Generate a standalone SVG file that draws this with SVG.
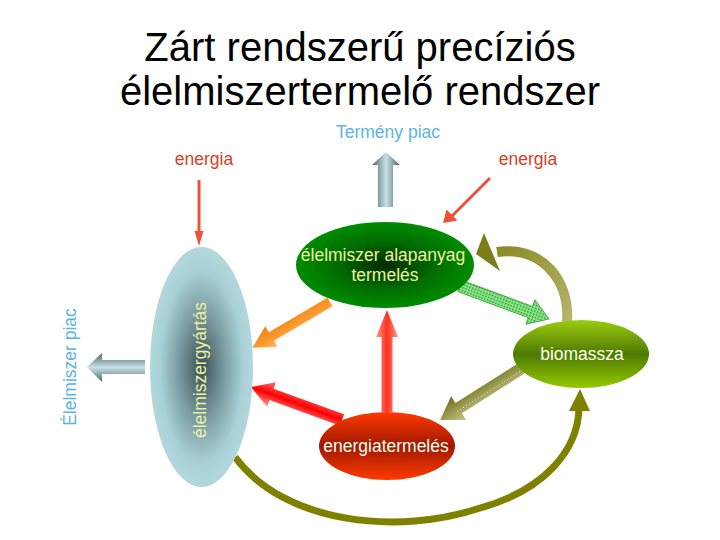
<svg xmlns="http://www.w3.org/2000/svg" width="720" height="540" viewBox="0 0 720 540">
<defs>
<radialGradient id="gGreen" cx="50%" cy="50%" r="50%">
<stop offset="0" stop-color="#002c00"/>
<stop offset="0.55" stop-color="#006c00"/>
<stop offset="1" stop-color="#008c00"/>
</radialGradient>
<radialGradient id="gBlue" cx="50%" cy="50%" r="50%">
<stop offset="0" stop-color="#3a5056"/>
<stop offset="0.45" stop-color="#7a9ca2"/>
<stop offset="0.8" stop-color="#a8d0d6"/>
<stop offset="1" stop-color="#b2d8dc"/>
</radialGradient>
<linearGradient id="gBio" x1="0" y1="0" x2="0" y2="1">
<stop offset="0" stop-color="#9ccc10"/>
<stop offset="0.5" stop-color="#4e7a00"/>
<stop offset="1" stop-color="#94ca00"/>
</linearGradient>
<linearGradient id="gEnergy" x1="0" y1="0" x2="0" y2="1">
<stop offset="0" stop-color="#ff3a00"/>
<stop offset="0.5" stop-color="#a01800"/>
<stop offset="1" stop-color="#ff3a00"/>
</linearGradient>
<linearGradient id="gOrange" x1="0" y1="0" x2="0" y2="1">
<stop offset="0" stop-color="#ffc070"/>
<stop offset="0.4" stop-color="#ff9a30"/>
<stop offset="1" stop-color="#f08010"/>
</linearGradient>
<linearGradient id="gRed" x1="0" y1="0" x2="0" y2="1">
<stop offset="0" stop-color="#ff9a9a"/>
<stop offset="0.5" stop-color="#ff0000"/>
<stop offset="1" stop-color="#ff7070"/>
</linearGradient>
<linearGradient id="gRedV" x1="0" y1="0" x2="0" y2="1">
<stop offset="0" stop-color="#ff9a88"/>
<stop offset="0.5" stop-color="#ff3020"/>
<stop offset="1" stop-color="#ff9a88"/>
</linearGradient>
<linearGradient id="gOlive" x1="0" y1="0" x2="0" y2="1">
<stop offset="0" stop-color="#c8c890"/>
<stop offset="0.5" stop-color="#9a9a50"/>
<stop offset="1" stop-color="#6e6e1e"/>
</linearGradient>
<linearGradient id="gOliveArc" gradientUnits="userSpaceOnUse" x1="480" y1="250" x2="570" y2="320">
<stop offset="0" stop-color="#84841c"/>
<stop offset="1" stop-color="#b4b46c"/>
</linearGradient>
<linearGradient id="gSlateV" x1="0" y1="0" x2="1" y2="0">
<stop offset="0" stop-color="#4a6670"/>
<stop offset="0.5" stop-color="#c6e0e4"/>
<stop offset="1" stop-color="#4a6670"/>
</linearGradient>
<linearGradient id="gSlateH" x1="0" y1="0" x2="0" y2="1">
<stop offset="0" stop-color="#4a6670"/>
<stop offset="0.5" stop-color="#c6e0e4"/>
<stop offset="1" stop-color="#4a6670"/>
</linearGradient>
<pattern id="pDots" width="3" height="3" patternUnits="userSpaceOnUse">
<rect width="3" height="3" fill="#8ee88e"/>
<rect width="1.5" height="1.5" fill="#2a902a"/>
</pattern>
<style>
.title{font-family:"Liberation Sans",Arial,sans-serif;font-size:40px;fill:#000;text-anchor:middle}
.lbl{font-family:"Liberation Sans",Arial,sans-serif;font-size:17.5px;text-anchor:middle}
.market{fill:#5ab4e4}
.en{fill:#d8401e}
.yl{fill:#eef2a0}
.wt{fill:#fffff0}
.thin{stroke:#f05038;stroke-width:3;fill:none}
</style>
</defs>
<rect width="720" height="540" fill="#ffffff"/>

<g id="title">
<text class="title" x="360" y="61">Zárt rendszerű precíziós</text>
<text class="title" x="360" y="105">élelmiszertermelő rendszer</text>
</g>

<g id="labels">
<text class="lbl market" x="388" y="138">Termény piac</text>
<text class="lbl en" x="204" y="165">energia</text>
<text class="lbl en" x="528" y="165">energia</text>
<text class="lbl market" transform="translate(76,367) rotate(-90)" x="0" y="0">Élelmiszer piac</text>
</g>

<g id="connectors">
<!-- Termény piac arrow -->
<polygon points="378,207 378,165 372,165 386,152 400,165 393,165 393,207" fill="url(#gSlateV)"/>
<!-- Élelmiszer piac arrow -->
<polygon points="145,360 102,360 102,353 87,367 102,382 102,374 145,374" fill="url(#gSlateH)"/>
<!-- energia left -->
<line class="thin" x1="199" y1="180" x2="199" y2="233"/>
<polygon points="194.5,231 203.5,231 199,246" fill="#f05038"/>
<!-- energia right -->
<line class="thin" x1="490" y1="178" x2="452" y2="216"/>
<polygon points="446.5,209.5 457.5,220.5 443,223" fill="#f05038"/>
<!-- bottom arc blue -> biomassza -->
<path d="M235,457 C285,525 400,535 480,508 C545,490 578,450 579,408" fill="none" stroke="#808000" stroke-width="7"/>
<polygon points="580,389 569,411 590,411" fill="#808000"/>
<!-- olive arc biomassza -> green -->
<path d="M567,322 C570,280 542,246 497,252" fill="none" stroke="url(#gOliveArc)" stroke-width="10"/>
<polygon points="476,254 484,233 500,271" fill="#7c7c1a"/>
<!-- green dotted arrow green -> biomassza -->
<polygon transform="translate(460,286) rotate(20.3)" points="0,-6 75,-6 75,-13 95,0 75,13 75,6 0,6" fill="url(#pDots)" stroke="#3aa83a" stroke-width="0.8"/>
<!-- olive arrow biomassza -> energiatermelés -->
<g transform="translate(522,368) rotate(147.6)">
<polygon points="0,-6 75,-6 75,-14 97,0 75,14 75,6 0,6" fill="url(#gOlive)"/>
<line x1="0" y1="-2" x2="80" y2="-2" stroke="#ffffff" stroke-width="0.8" stroke-dasharray="1 2.5"/>
</g>
<!-- orange arrow green -> blue -->
<polygon transform="translate(330,302) rotate(149.5)" points="0,-5 68,-5 68,-12 90,0 68,12 68,5 0,5" fill="url(#gOrange)"/>
<!-- red arrow energiatermelés -> blue -->
<polygon transform="translate(342,420) rotate(199.9)" points="0,-6 75,-6 75,-13 97,0 75,13 75,6 0,6" fill="url(#gRed)"/>
<!-- red vertical energiatermelés -> green -->
<polygon transform="translate(387,412) rotate(-90)" points="0,-5.5 75,-5.5 75,-11 102,0 75,11 75,5.5 0,5.5" fill="url(#gRedV)"/>
</g>

<g id="node-elelmiszergyartas">
<ellipse cx="201.5" cy="367" rx="51.5" ry="120" fill="url(#gBlue)"/>
<text class="lbl yl" transform="translate(206,370) rotate(-90)" x="0" y="0">élelmiszergyártás</text>
</g>

<g id="node-alapanyag">
<ellipse cx="385" cy="265" rx="89" ry="43" fill="url(#gGreen)"/>
<text class="lbl yl" x="383" y="261">élelmiszer alapanyag</text>
<text class="lbl yl" x="385" y="281">termelés</text>
</g>

<g id="node-biomassza">
<ellipse cx="581" cy="354" rx="68" ry="34" fill="url(#gBio)"/>
<text class="lbl wt" x="582" y="360">biomassza</text>
</g>

<g id="node-energiatermeles">
<ellipse cx="387" cy="446" rx="68" ry="34" fill="url(#gEnergy)"/>
<text class="lbl wt" x="386" y="452">energiatermelés</text>
</g>
</svg>
